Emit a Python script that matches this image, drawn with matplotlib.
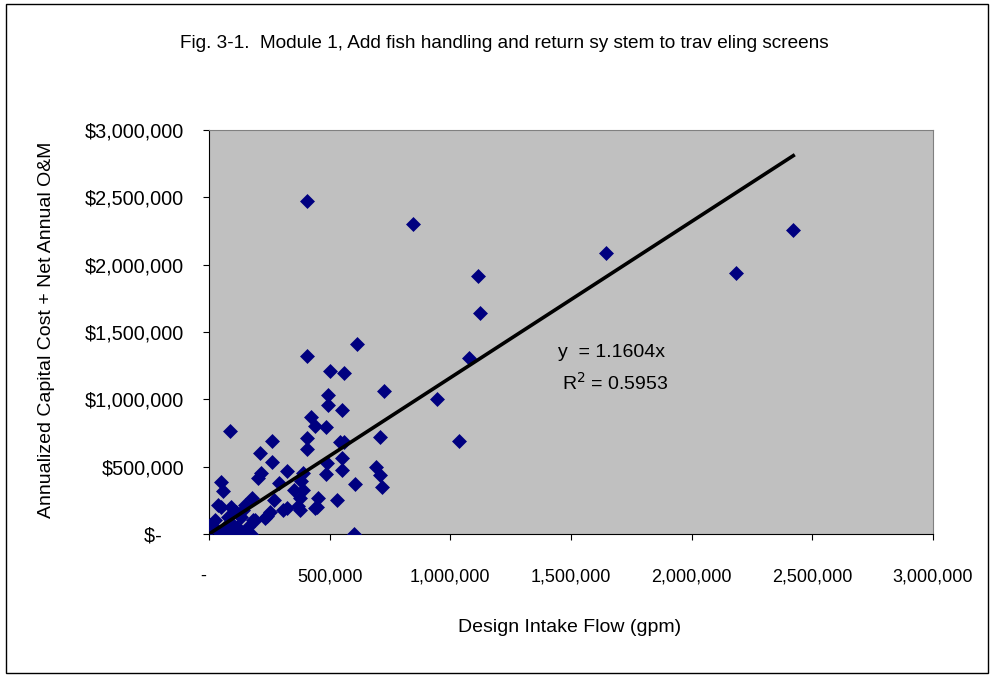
import matplotlib.pyplot as plt
import numpy as np
from matplotlib.patches import Rectangle
from matplotlib.ticker import FuncFormatter, MultipleLocator

plt.rcParams['font.family'] = ['Liberation Sans', 'DejaVu Sans']

# Design intake flow (gpm) and annualized cost ($)
flow = [
    405000, 844000, 1643000, 2185000, 2421000, 1113000, 1122000, 1076000,
    613000, 406000, 501000, 559000, 724000, 944000, 492000, 492000,
    550000, 1035000, 708000, 691000, 708000, 716000, 600000, 422000,
    439000, 484000, 406000, 406000, 542000, 559000, 550000, 488000,
    550000, 484000, 604000, 530000, 451000, 439000, 389000, 381000,
    87000, 261000, 211000, 261000, 215000, 203000, 323000, 290000,
    389000, 352000, 178000, 269000, 377000, 368000, 323000, 447000,
    141000, 240000, 306000, 377000, 182000, 50000, 58000, 50000,
    91000, 252000, 232000, 5000, 8000, 91000, 161000, 132000,
    91000, 174000, 79000, 132000, 190000, 25000, 37000, 66000,
    112000, 149000, 116000, 54000, 37000,
]
cost = [
    2475000, 2302000, 2087000, 1938000, 2258000, 1916000, 1641000, 1307000,
    1411000, 1322000, 1210000, 1196000, 1062000, 1003000, 1032000, 958000,
    921000, 691000, 720000, 498000, 438000, 349000, 0, 869000,
    802000, 795000, 713000, 631000, 683000, 683000, 564000, 527000,
    475000, 446000, 371000, 253000, 267000, 193000, 453000, 394000,
    765000, 691000, 602000, 535000, 453000, 416000, 468000, 379000,
    327000, 327000, 267000, 253000, 267000, 208000, 193000, 201000,
    178000, 134000, 178000, 178000, 104000, 386000, 319000, 201000,
    201000, 163000, 119000, 67000, 45000, 82000, 52000, 15000,
    0, 0, 126000, 126000, 104000, 104000, 22000, 52000,
    163000, 215000, 52000, 0, 215000,
]

slope = 1.1604
r_squared = 0.5953

title = "Fig. 3-1.  Module 1, Add fish handling and return sy stem to trav eling screens"
x_label = "Design Intake Flow (gpm)"
y_label = "Annualized Capital Cost + Net Annual O&M"

fig = plt.figure(figsize=(9.93, 6.79), dpi=100)
fig.patches.append(Rectangle((6 / 993, 1 - 673 / 679), 982 / 993, 669 / 679,
                             transform=fig.transFigure, fill=False,
                             edgecolor='black', linewidth=1.0))

ax = fig.add_axes([209 / 993, 1 - 534 / 679, 724 / 993, 404 / 679])
ax.set_facecolor('#C0C0C0')

ax.scatter(flow, cost, marker='D', s=58, color='#000080', linewidths=0, zorder=3)

# trendline through the origin
x_fit = np.array([0, max(flow)])
ax.plot(x_fit, slope * x_fit, color='black', linewidth=2.6, zorder=4)

ax.set_xlim(0, 3000000)
ax.set_ylim(0, 3000000)
ax.xaxis.set_major_locator(MultipleLocator(500000))
ax.yaxis.set_major_locator(MultipleLocator(500000))


def money(v, pos):
    if v == 0:
        return "$-    "
    return "${:,.0f}".format(v)


def plain(v, pos):
    if v == 0:
        return "-  "
    return "{:,.0f}".format(v)


ax.yaxis.set_major_formatter(FuncFormatter(money))
ax.xaxis.set_major_formatter(FuncFormatter(plain))
ax.tick_params(direction='out', length=4, width=0.8, colors='black')
ax.tick_params(axis='x', pad=20.5, labelsize=13)
ax.tick_params(axis='y', pad=14, labelsize=14.3)

for side in ['top', 'right']:
    ax.spines[side].set_color('#808080')
for side in ['left', 'bottom']:
    ax.spines[side].set_color('black')

ax.text(0.482, 0.45, "y  = {:.4f}x".format(slope), transform=ax.transAxes,
        fontsize=14, ha='left', va='center')
ax.text(0.487, 0.374, "R$^2$ = {:.4f}".format(r_squared), transform=ax.transAxes,
        fontsize=14, ha='left', va='center')

fig.text(504 / 993, 1 - 44 / 679, title, fontsize=13.7, ha='center', va='center')
fig.text(570 / 993, 1 - 627 / 679, x_label, fontsize=14, ha='center', va='center')
fig.text(47 / 993, 1 - 330 / 679, y_label, fontsize=14, ha='center', va='center',
         rotation=90)

fig.savefig('out.png', dpi=100)
